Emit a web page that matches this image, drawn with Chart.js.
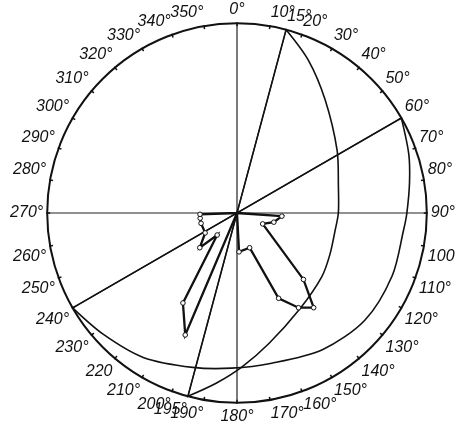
<!DOCTYPE html>
<html>
<head>
<meta charset="utf-8">
<script src="https://cdn.jsdelivr.net/npm/chart.js@4.4.1/dist/chart.umd.min.js"></script>
<style>
  html, body { margin: 0; background: #fff; overflow: hidden; }
  #wrap { width: 455px; height: 426px; overflow: hidden; }
</style>
</head>
<body>
<div id="wrap"><canvas id="polar" width="472" height="426"></canvas></div>
<script>
// angle labels round the rim (degrees, clockwise from top)
const labelAngles = [0, 10, 15, 20, 30, 40, 50, 60, 70, 80, 90, 100, 110, 120, 130, 140, 150, 160, 170,
  180, 190, 195, 200, 210, 220, 230, 240, 250, 260, 270, 280, 290, 300, 310, 320, 330, 340, 350];
const labelTexts = ['0°', '10°', '15°', '20°', '30°', '40°', '50°', '60°', '70°', '80°', '90°', '100°', '110°',
  '120°', '130°', '140°', '150°', '160°', '170°', '180°', '190°', '195°', '200°', '210°', '220', '230°',
  '240°', '250°', '260°', '270°', '280°', '290°', '300°', '310°', '320°', '330°', '340°', '350°'];

// diameters drawn through the centre
const diameterAngles = [0, 90, 180, 270, 15, 195, 60, 240];

// measured polygon (angle, radius in % of rim)
const polyAngles = [85, 94, 104, 113, 135, 141, 147, 154, 160, 177, 185, 203, 211, 222, 227, 238, 254, 262, 268, 275];
const polyValues = [0, 23.7, 20, 14.7, 49.5, 64.2, 59.5, 50, 19.5, 20.5, 0, 69.8, 55.3, 15.6, 26.8, 19.8, 19.7, 19.6, 19.5, 0];

// curve from 15° to 195°
const arc1Angles = [15, 25, 38, 58, 75, 90, 100, 114, 127, 147, 166, 178, 187, 195];
const arc1Values = [100, 88.9, 75.5, 62.2, 55.3, 53.4, 52.5, 53.6, 55.9, 60.5, 70.6, 81, 90.4, 100];

// curve from 60° to 240°
const arc2Angles = [60, 71, 80, 90, 96, 112, 130, 148, 167, 182, 196, 213, 228, 240];
const arc2Values = [100, 95.7, 92.3, 89.5, 88.2, 88.2, 87.9, 84.9, 81.2, 81.8, 84.6, 90.7, 95.2, 100];

const degrees = Array.from({length: 360}, (_, i) => i);
const labels = degrees.map(d => {
  const k = labelAngles.indexOf(d);
  return k >= 0 ? labelTexts[k] : '';
});

function spread(angles, values) {
  const out = degrees.map(() => null);
  angles.forEach((a, i) => { out[a] = values[i]; });
  return out;
}

// hide the segment that closes the radar loop back to the first point
function noClose(angles) {
  return {
    borderColor: ctx => ctx.p1DataIndex === angles[0] ? 'rgba(0,0,0,0)' : undefined
  };
}

// curves end on the rim: stop the loop wrap bending their end points
const arcEnds = {
  id: 'arcEnds',
  beforeDatasetDraw(chart, args) {
    if (args.index === 0) return;
    const line = args.meta.dataset;
    line.updateControlPoints(chart.chartArea, 'r');
    const pts = line.points.filter(p => !p.skip);
    [pts[0], pts[pts.length - 1]].forEach(p => {
      p.cp1x = p.x; p.cp1y = p.y;
      p.cp2x = p.x; p.cp2y = p.y;
    });
  }
};

const rimTicks = {
  id: 'rimTicks',
  afterDraw(chart) {
    const s = chart.scales.r;
    const c = chart.ctx;
    const R = s.drawingArea;
    c.save();
    c.strokeStyle = '#111';
    c.lineWidth = 1.5;
    for (let a = 0; a < 360; a += 10) {
      const p1 = s.getPointPosition(a, R + 1);
      const p2 = s.getPointPosition(a, R - 3);
      c.beginPath();
      c.moveTo(p1.x, p1.y);
      c.lineTo(p2.x, p2.y);
      c.stroke();
    }
    c.restore();
  }
};

new Chart(document.getElementById('polar'), {
  type: 'radar',
  data: {
    labels: labels,
    datasets: [
      {
        data: spread(polyAngles, polyValues),
        spanGaps: true,
        borderColor: '#111',
        borderWidth: 2.3,
        fill: false,
        pointRadius: ctx => ctx.raw ? 2.3 : 0,
        pointBackgroundColor: '#fff',
        pointBorderColor: '#111',
        pointBorderWidth: 1
      },
      {
        data: spread(arc1Angles, arc1Values),
        spanGaps: true,
        borderColor: '#111',
        borderWidth: 1.6,
        tension: 0.3,
        fill: false,
        pointRadius: 0,
        segment: noClose(arc1Angles)
      },
      {
        data: spread(arc2Angles, arc2Values),
        spanGaps: true,
        borderColor: '#111',
        borderWidth: 1.6,
        tension: 0.3,
        fill: false,
        pointRadius: 0,
        segment: noClose(arc2Angles)
      }
    ]
  },
  options: {
    responsive: false,
    animation: false,
    plugins: {
      legend: { display: false },
      tooltip: { enabled: false }
    },
    scales: {
      r: {
        min: 0,
        max: 100,
        ticks: { display: false, stepSize: 100 },
        grid: { circular: true, color: '#111', lineWidth: 2 },
        angleLines: {
          display: true,
          color: '#222',
          lineWidth: ctx => diameterAngles.includes(ctx.index) ? 1.2 : 0
        },
        pointLabels: {
          color: '#111',
          padding: 4,
          font: { family: 'Liberation Sans', size: 16, style: 'italic' }
        }
      }
    }
  },
  plugins: [arcEnds, rimTicks]
});
</script>
</body>
</html>
